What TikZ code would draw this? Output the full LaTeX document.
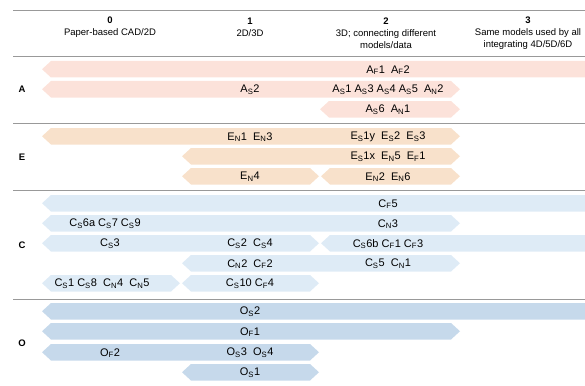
\documentclass[tikz,border=0pt]{standalone}
\usepackage{fontspec}
\setmainfont{Liberation Sans}
\usepackage{tikz}

\definecolor{aband}{RGB}{252,226,218}
\definecolor{eband}{RGB}{248,225,203}
\definecolor{cband}{RGB}{222,235,246}
\definecolor{oband}{RGB}{198,217,235}

% band with a tip at both ends: style, left tip, right tip, top
\newcommand{\chev}[4]{\fill[#1] (#2,#4+8.25) -- (#2+9,#4) -- (#3-9,#4) -- (#3,#4+8.25) -- (#3-9,#4+16.5) -- (#2+9,#4+16.5) -- cycle;}
\newcommand{\ix}[2]{#1\textsubscript{#2}}

\begin{document}
\begin{tikzpicture}[x=1pt,y=-1pt,
	rule/.style={draw=gray!80,line width=0.8pt},
	lbl/.style={font=\fontsize{11}{13}\selectfont,inner sep=0pt},
	head/.style={font=\fontsize{9.5}{12}\selectfont,align=center,inner sep=0pt},
	rowlbl/.style={font=\bfseries\fontsize{9.5}{12}\selectfont,inner sep=0pt}]
	\clip (0,0) rectangle (585,385);
	
	\draw[rule] (13,10) -- (585,10);
	\draw[rule] (13,56) -- (585,56);
	\draw[rule] (13,123) -- (585,123);
	\draw[rule] (13,190) -- (585,190);
	\draw[rule] (13,299) -- (585,299);
	
	\node[head] (h0) at (110,27) {\textbf{0}\\Paper-based CAD/2D};
	\node[head] (h1) at (250,27) {\textbf{1}\\2D/3D};
	\node[head] (h2) at (386,33) {\textbf{2}\\3D; connecting different\\models/data};
	\node[head] (h3) at (528,33) {\textbf{3}\\Same models used by all\\integrating 4D/5D/6D};
	
	\node[rowlbl] (ra) at (22,89) {A};
	\node[rowlbl] (re) at (22,157) {E};
	\node[rowlbl] (rc) at (22,245) {C};
	\node[rowlbl] (ro) at (22,343) {O};
	
	\chev{aband}{42}{600}{61}
	\chev{aband}{42}{460}{81}
	\chev{aband}{320}{460}{101}
	
	\chev{eband}{42}{460}{128}
	\chev{eband}{182}{460}{148}
	\chev{eband}{182}{319}{168}
	\chev{eband}{321}{460}{168}
	
	\chev{cband}{42}{600}{195}
	\chev{cband}{42}{460}{215}
	\chev{cband}{42}{319}{235}
	\chev{cband}{321}{600}{235}
	\chev{cband}{182}{460}{255}
	\chev{cband}{42}{180}{275}
	\chev{cband}{182}{319}{275}
	
	\chev{oband}{42}{600}{303}
	\chev{oband}{42}{460}{323}
	\chev{oband}{42}{319}{344}
	\chev{oband}{182}{319}{364}
	
	\node[lbl] (a1) at (388,70) {\ix{A}{F}1\ \ \ix{A}{F}2};
	\node[lbl] (a2) at (250,90) {\ix{A}{S}2};
	\node[lbl] (a3) at (388,90) {\ix{A}{S}1 \ix{A}{S}3 \ix{A}{S}4 \ix{A}{S}5\ \ \ix{A}{N}2};
	\node[lbl] (a4) at (388,110) {\ix{A}{S}6\ \ \ix{A}{N}1};
	
	\node[lbl] (e1) at (250,137) {\ix{E}{N}1\ \ \ix{E}{N}3};
	\node[lbl] (e2) at (388,137) {\ix{E}{S}1y\ \ \ix{E}{S}2\ \ \ix{E}{S}3};
	\node[lbl] (e3) at (388,157) {\ix{E}{S}1x\ \ \ix{E}{N}5\ \ \ix{E}{F}1};
	\node[lbl] (e4) at (250,177) {\ix{E}{N}4};
	\node[lbl] (e5) at (388,177) {\ix{E}{N}2\ \ \ix{E}{N}6};
	
	\node[lbl] (c1) at (388,204) {\ix{C}{F}5};
	\node[lbl] (c2) at (105,224) {\ix{C}{S}6a \ix{C}{S}7 \ix{C}{S}9};
	\node[lbl] (c3) at (388,224) {\ix{C}{N}3};
	\node[lbl] (c4) at (110,244) {\ix{C}{S}3};
	\node[lbl] (c5) at (250,244) {\ix{C}{S}2\ \ \ix{C}{S}4};
	\node[lbl] (c6) at (388,244) {\ix{C}{S}6b \ix{C}{F}1 \ix{C}{F}3};
	\node[lbl] (c7) at (250,264) {\ix{C}{N}2\ \ \ix{C}{F}2};
	\node[lbl] (c8) at (388,264) {\ix{C}{S}5\ \ \ix{C}{N}1};
	\node[lbl] (c9) at (102,284) {\ix{C}{S}1 \ix{C}{S}8\ \ \ix{C}{N}4\ \ \ix{C}{N}5};
	\node[lbl] (c10) at (250,284) {\ix{C}{S}10 \ix{C}{F}4};
	
	\node[lbl] (o1) at (250,312) {\ix{O}{S}2};
	\node[lbl] (o2) at (250,332) {\ix{O}{F}1};
	\node[lbl] (o3) at (110,353) {\ix{O}{F}2};
	\node[lbl] (o4) at (250,353) {\ix{O}{S}3\ \ \ix{O}{S}4};
	\node[lbl] (o5) at (250,373) {\ix{O}{S}1};
\end{tikzpicture}
\end{document}
